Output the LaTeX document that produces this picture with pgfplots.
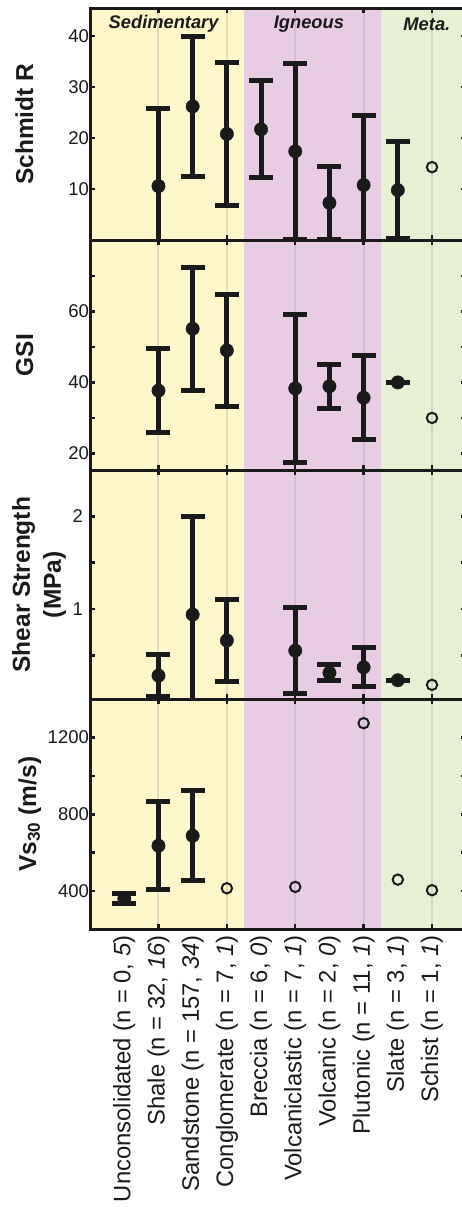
\documentclass[border=0pt]{standalone}
\usepackage{fontspec}
\setmainfont{Liberation Sans}
\usepackage{pgfplots}
\usepackage{pgfplotstable}
\pgfplotsset{compat=1.18}
\definecolor{ink}{RGB}{26,26,26}
\definecolor{sedi}{RGB}{253,247,202}
\definecolor{igne}{RGB}{232,204,228}
\definecolor{meta}{RGB}{230,240,210}
\definecolor{gridc}{RGB}{160,160,160}

% Schmidt R: mean and standard deviation
\pgfplotstableread{
x y e
1 10.6 15.1
2 26.2 13.7
3 20.8 14.0
4 21.7 9.5
5 17.4 17.2
6 7.3 7.1
7 10.8 13.6
8 9.8 9.5
}\schmidt
% GSI
\pgfplotstableread{
x y e
1 37.7 11.85
2 55.1 17.25
3 49.0 15.8
5 38.3 20.85
6 38.9 6.2
7 35.7 11.85
8 40.0 0
}\gsi
% Shear strength (MPa)
\pgfplotstableread{
x y e
1 0.28 0.225
2 0.94 1.06
3 0.66 0.44
5 0.55 0.465
6 0.31 0.085
7 0.37 0.21
8 0.23 0
}\shear
% Vs30 (m/s)
\pgfplotstableread{
x y e
0 360 25
1 636 228.5
2 688 233.5
}\vs

\pgfplotsset{
  panel/.style={
    set layers, scale only axis, width=376.1pt, xmin=-1, xmax=10,
    axis line style={line width=3pt, draw=ink},
    tick align=inside, major tick length=5pt, minor tick length=5pt,
    tick style={line width=2.5pt, draw=ink},
    xtick={1,3,5,7,9}, xticklabels={}, xmajorgrids=true,
    major x grid style={line width=2pt, draw=gridc, opacity=0.3},
    yticklabel style={font=\fontsize{18.5}{20}\selectfont, text=ink, inner sep=1pt},
    ylabel style={font=\bfseries\fontsize{24.5}{26}\selectfont, text=ink},
    /pgf/number format/assume math mode=true, /pgf/number format/1000 sep={},
  },
  dots/.style={only marks, mark=*, mark size=6.7pt, color=ink,
    error bars/.cd, y dir=both, y explicit,
    error bar style={line width=5pt, color=ink},
    error mark options={rotate=90, line width=5pt, mark size=12pt, color=ink}},
  rings/.style={only marks, mark=o, mark size=5.2pt, mark options={line width=2pt, color=ink}},
}

\begin{document}
\begin{tikzpicture}
% ---------------- Schmidt R
\begin{axis}[panel, at={(90.1pt,-8.3pt)}, anchor=north west, height=231.9pt,
  ymin=0, ymax=45.4, ytick={10,20,30,40},
  ylabel={Schmidt R}, ylabel style={at={([xshift=-57pt]rel axis cs:0,0.5)}, anchor=base}]
\begin{pgfonlayer}{axis background}
\fill[sedi] (axis cs:-1,0) rectangle (axis cs:3.5,45.4);
\fill[igne] (axis cs:3.5,0) rectangle (axis cs:7.5,45.4);
\fill[meta] (axis cs:7.5,0) rectangle (axis cs:10,45.4);
\end{pgfonlayer}
\addplot[dots] table[x=x, y=y, y error=e] {\schmidt};
\addplot[rings] coordinates {(9,14.3)};
\node[font=\bfseries\itshape\fontsize{18.3}{20}\selectfont, text=ink] at (axis cs:1.15,42.3) {Sedimentary};
\node[font=\bfseries\itshape\fontsize{18.3}{20}\selectfont, text=ink] at (axis cs:5.4,42.3) {Igneous};
\node[font=\bfseries\itshape\fontsize{18.3}{20}\selectfont, text=ink] at (axis cs:8.85,42.3) {Meta.};
\end{axis}
% ---------------- GSI
\begin{axis}[panel, at={(90.1pt,-240.2pt)}, anchor=north west, height=230pt,
  ymin=15.3, ymax=80, ytick={20,40,60}, minor ytick={30,50,70},
  ylabel={GSI}, ylabel style={at={([xshift=-57pt]rel axis cs:0,0.5)}, anchor=base}]
\begin{pgfonlayer}{axis background}
\fill[sedi] (axis cs:-1,15.3) rectangle (axis cs:3.5,80);
\fill[igne] (axis cs:3.5,15.3) rectangle (axis cs:7.5,80);
\fill[meta] (axis cs:7.5,15.3) rectangle (axis cs:10,80);
\end{pgfonlayer}
\addplot[dots] table[x=x, y=y, y error=e] {\gsi};
\addplot[rings] coordinates {(9,30.0)};
\end{axis}
% ---------------- Shear strength
\begin{axis}[panel, at={(90.1pt,-470.2pt)}, anchor=north west, height=229pt,
  ymin=0.025, ymax=2.5, ytick={1,2}, minor ytick={0.5,1.5},
  yticklabel style={xshift=-6pt},
  ylabel={Shear Strength\\(MPa)}, ylabel style={align=center, font=\bfseries\fontsize{24.5}{31}\selectfont, at={([xshift=-51pt]rel axis cs:0,0.5)}, anchor=center}]
\begin{pgfonlayer}{axis background}
\fill[sedi] (axis cs:-1,0.025) rectangle (axis cs:3.5,2.5);
\fill[igne] (axis cs:3.5,0.025) rectangle (axis cs:7.5,2.5);
\fill[meta] (axis cs:7.5,0.025) rectangle (axis cs:10,2.5);
\end{pgfonlayer}
\addplot[dots] table[x=x, y=y, y error=e] {\shear};
\addplot[rings] coordinates {(9,0.18)};
\end{axis}
% ---------------- Vs30
\begin{axis}[panel, at={(90.1pt,-699.2pt)}, anchor=north west, height=230.1pt,
  ymin=200, ymax=1400, ytick={400,800,1200}, minor ytick={600,1000},
  ylabel={Vs\textsubscript{30} (m/s)}, ylabel style={at={([xshift=-54pt]rel axis cs:0,0.5)}, anchor=base},
  extra x ticks={0,1,2,3,4,5,6,7,8,9},
  extra x tick labels={{Unconsolidated (n = 0, \textit{5})},{Shale (n = 32, \textit{16})},{Sandstone (n = 157, \textit{34})},{Conglomerate (n = 7, \textit{1})},{Breccia (n = 6, \textit{0})},{Volcaniclastic (n = 7, \textit{1})},{Volcanic (n = 2, \textit{0})},{Plutonic (n = 11, \textit{1})},{Slate (n = 3, \textit{1})},{Schist (n = 1, \textit{1})}},
  extra x tick style={major tick length=0pt, grid=none},
  xticklabel style={rotate=90, anchor=east, inner sep=0pt, font=\fontsize{23.8}{26}\selectfont, text=ink},
  xticklabel shift=6pt]
\begin{pgfonlayer}{axis background}
\fill[sedi] (axis cs:-1,200) rectangle (axis cs:3.5,1400);
\fill[igne] (axis cs:3.5,200) rectangle (axis cs:7.5,1400);
\fill[meta] (axis cs:7.5,200) rectangle (axis cs:10,1400);
\end{pgfonlayer}
\addplot[dots] table[x=x, y=y, y error=e] {\vs};
\addplot[rings] coordinates {(3,414) (5,421) (7,1275) (8,459) (9,404)};
\end{axis}
\pgfresetboundingbox
\path[use as bounding box] (0,0) rectangle (462pt,-1207pt);
\end{tikzpicture}
\end{document}
